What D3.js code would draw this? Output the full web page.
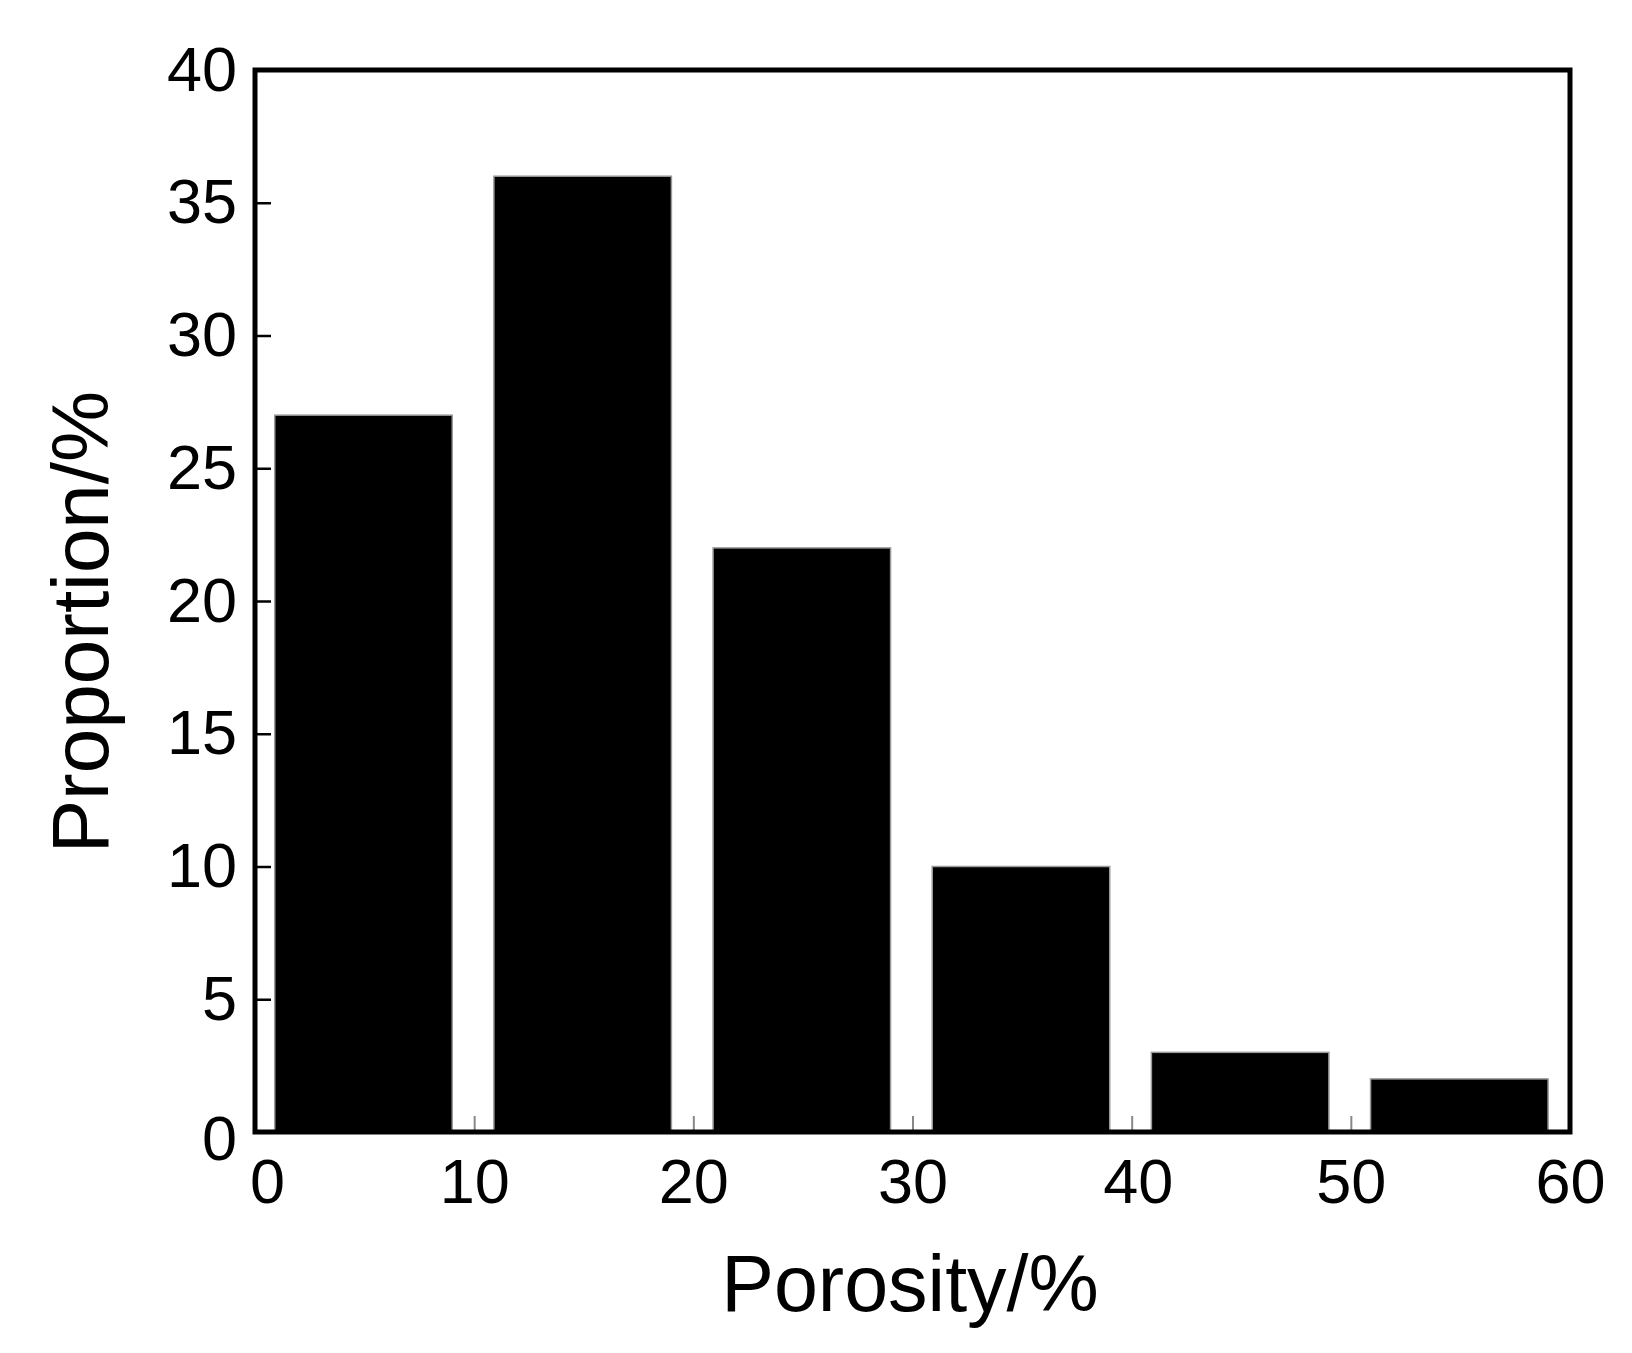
<!DOCTYPE html>
<html>
<head>
<meta charset="utf-8">
<script src="https://cdn.jsdelivr.net/npm/d3@7"></script>
<style>
  html, body { margin: 0; padding: 0; background: #fff; }
  svg { display: block; font-family: "Liberation Sans", Arial, sans-serif; }
</style>
</head>
<body>
<script>
// ---- data ----
const binStarts = [0, 10, 20, 30, 40, 50];
const proportions = [27, 36, 22, 10, 3, 2];
const xTicks = [0, 10, 20, 30, 40, 50, 60];
const yTicks = [0, 5, 10, 15, 20, 25, 30, 35, 40];
const xTitle = "Porosity/%";
const yTitle = "Proportion/%";

// ---- layout ----
const W = 1632, H = 1353;
const mLeft = 255, mRight = 1570, mTop = 70, mBottom = 1132;

const svg = d3.select("body").append("svg").attr("width", W).attr("height", H);

const x = d3.scaleLinear().domain([0, 60]).range([mLeft, mRight]);
const y = d3.scaleLinear().domain([0, 40]).range([mBottom, mTop]);

// bars
svg.append("g").selectAll("rect")
  .data(binStarts.map((b, i) => ({ b, v: proportions[i] })))
  .join("rect")
  .attr("x", d => x(d.b + 0.9))
  .attr("width", d => x(d.b + 9.0) - x(d.b + 0.9))
  .attr("y", d => y(d.v))
  .attr("height", d => y(0) - y(d.v))
  .attr("fill", "#000")
  .attr("stroke", "#9a9a9a")
  .attr("stroke-width", 1.5);

// x axis
const gx = svg.append("g")
  .attr("transform", `translate(0,${mBottom})`)
  .call(d3.axisBottom(x).tickValues(xTicks).tickSize(-16).tickPadding(26).tickFormat(d3.format("d")));
gx.select(".domain").remove();
gx.selectAll(".tick line").attr("stroke", "#888").attr("stroke-width", 2);
gx.selectAll(".tick text").attr("font-size", 63).attr("fill", "#000")
  .attr("font-family", "'Liberation Sans', Arial, sans-serif")
  .attr("dx", d => d === 0 ? 12 : (d === 40 ? 6 : 0));

// y axis
const gy = svg.append("g")
  .attr("transform", `translate(${mLeft},0)`)
  .call(d3.axisLeft(y).tickValues(yTicks).tickSize(-16).tickPadding(18).tickFormat(d3.format("d")));
gy.select(".domain").remove();
gy.selectAll(".tick line").attr("stroke", "#000").attr("stroke-width", 2.5);
gy.selectAll(".tick text").attr("font-size", 63).attr("fill", "#000")
  .attr("font-family", "'Liberation Sans', Arial, sans-serif")
  .attr("y", d => d === 0 ? 7 : 0);

// frame
svg.append("rect")
  .attr("x", mLeft).attr("y", mTop)
  .attr("width", mRight - mLeft).attr("height", mBottom - mTop)
  .attr("fill", "none").attr("stroke", "#000").attr("stroke-width", 5);

// titles
svg.append("text")
  .attr("x", 910).attr("y", 1311)
  .attr("text-anchor", "middle")
  .attr("font-size", 79)
  .attr("fill", "#000")
  .text(xTitle);

svg.append("text")
  .attr("transform", `translate(108,622) rotate(-90)`)
  .attr("text-anchor", "middle")
  .attr("font-size", 80)
  .attr("fill", "#000")
  .text(yTitle);
</script>
</body>
</html>
